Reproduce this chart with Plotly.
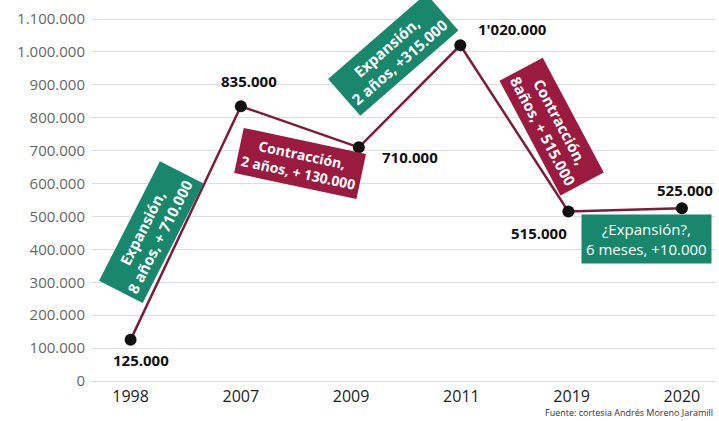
import plotly.graph_objects as go

years = ["1998", "2007", "2009", "2011", "2019", "2020"]
point_pos = [0, 1.0, 2.07, 2.99, 3.97, 5.0]
values = [125000, 835000, 710000, 1020000, 515000, 525000]
value_labels = ["125.000", "835.000", "710.000", "1'020.000", "515.000", "525.000"]
y_ticks = list(range(0, 1100001, 100000))
y_tick_labels = ["0", "100.000", "200.000", "300.000", "400.000", "500.000",
                 "600.000", "700.000", "800.000", "900.000", "1.000.000", "1.100.000"]

GREEN = "#18876c"
MAROON = "#9a1a40"
LINE = "#7e1c38"
FONT = "Open Sans"

fig = go.Figure()
fig.add_trace(go.Scatter(
    x=point_pos, y=values, mode="lines+markers",
    line=dict(color=LINE, width=2.5),
    marker=dict(color="#111111", size=12),
    hoverinfo="skip", showlegend=False,
))

# value label offsets in pixels (dx right, dy down)
offsets = [(10, 20), (8, -25), (51, 10), (52, -16), (-29, 21), (3, -18)]
for xp, v, lab, (ax, ay) in zip(point_pos, values, value_labels, offsets):
    fig.add_annotation(x=xp, y=v, text=f"<b>{lab}</b>", showarrow=False,
                       xshift=ax, yshift=-ay,
                       font=dict(family=FONT, size=15, color="#111111"))

boxes = [
    ("<b>Expansión,<br>8 años, + 710.000</b>", 0.19, 452000, -63, GREEN, 15),
    ("<b>Contracción,<br>2 años, + 130.000</b>", 1.54, 660000, 12, MAROON, 14),
    ("<b>Expansión,<br>2 años, +315.000</b>", 2.38, 990000, -41, GREEN, 15),
    ("<b>Contracción,<br>8años, + 515.000</b>", 3.82, 772000, 62, MAROON, 15),
    ("¿Expansión?,<br>6 meses, +10.000", 4.675, 430000, 0, GREEN, 15),
]
for text, bx, by, ang, col, fs in boxes:
    fig.add_annotation(x=bx, y=by, text=text, showarrow=False, textangle=ang,
                       bgcolor=col, borderpad=4,
                       font=dict(family=FONT, size=fs, color="white"))

fig.add_annotation(xref="paper", yref="paper", x=1.0, y=-0.05, xanchor="right",
                   yanchor="top", showarrow=False,
                   text="Fuente: cortesia Andrés Moreno Jaramill",
                   font=dict(family=FONT, size=9, color="#333333"))

fig.update_layout(
    width=719, height=421,
    margin=dict(l=92, r=4, t=10, b=36),
    paper_bgcolor="white", plot_bgcolor="white",
    font=dict(family=FONT),
    xaxis=dict(range=[-0.35, 5.3], tickvals=list(range(len(years))), ticktext=years,
               showgrid=False, zeroline=False, showline=False,
               tickfont=dict(family=FONT, size=16, color="#222222")),
    yaxis=dict(range=[-12155, 1127350], tickvals=y_ticks, ticktext=y_tick_labels,
               showgrid=True, gridcolor="#dddddd", gridwidth=1, zeroline=False,
               ticklabelstandoff=6,
               tickfont=dict(family=FONT, size=15, color="#666666")),
)

fig.write_html("out.html")
